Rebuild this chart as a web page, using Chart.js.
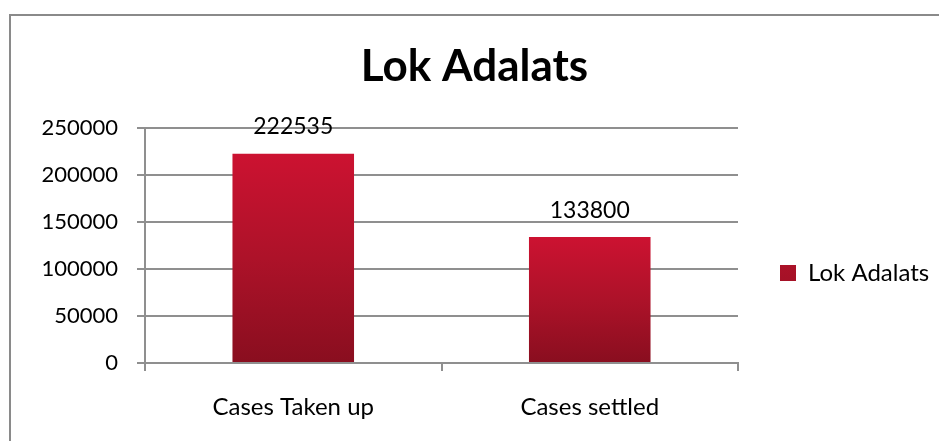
<!DOCTYPE html>
<html>
<head>
<meta charset="utf-8">
<script src="https://cdn.jsdelivr.net/npm/chart.js@4.4.0/dist/chart.umd.min.js"></script>
<style>
  html, body { margin: 0; padding: 0; background: #fff; }
  #wrap { position: relative; width: 939px; height: 441px; }
  #frame {
    position: absolute; left: 9px; top: 14px; right: 0; bottom: 0;
    border-left: 2px solid #8a8a8a; border-top: 2px solid #8a8a8a;
    pointer-events: none;
  }
  canvas { position: absolute; left: 0; top: 0; }
</style>
</head>
<body>
<div id="wrap">
  <canvas id="chart" width="939" height="441"></canvas>
  <div id="frame"></div>
</div>
<script>
const chartTitle = "Lok Adalats";
const categories = ["Cases Taken up", "Cases settled"];
const seriesName = "Lok Adalats";
const seriesValues = [222535, 133800];
const yMin = 0;
const yMax = 250000;
const yStep = 50000;

const FONT = "Lato, 'Open Sans', sans-serif";
const GRID = "#8f8f8f";

// vertical gradient per bar, bright red on top to dark red at the base
function barFill(context) {
  const chart = context.chart;
  if (!chart.chartArea || !chart.scales.y) {
    return "#a8122b";
  }
  const yScale = chart.scales.y;
  const value = seriesValues[context.dataIndex] ?? seriesValues[0];
  const top = yScale.getPixelForValue(value);
  const base = yScale.getPixelForValue(0);
  const g = chart.ctx.createLinearGradient(0, top, 0, base);
  g.addColorStop(0, "#cc1231");
  g.addColorStop(0.5, "#ad1229");
  g.addColorStop(1, "#890e1f");
  return g;
}

// value written above each bar
const valueLabels = {
  id: "valueLabels",
  afterDatasetsDraw(chart) {
    const ctx = chart.ctx;
    const meta = chart.getDatasetMeta(0);
    ctx.save();
    ctx.font = "23px " + FONT;
    ctx.fillStyle = "#000";
    ctx.textAlign = "center";
    ctx.textBaseline = "middle";
    meta.data.forEach((bar, i) => {
      ctx.fillText(String(seriesValues[i]), bar.x, bar.y - 27);
    });
    ctx.restore();
  }
};

new Chart(document.getElementById("chart"), {
  type: "bar",
  data: {
    labels: categories,
    datasets: [{
      label: seriesName,
      data: seriesValues,
      backgroundColor: barFill,
      borderWidth: 0,
      categoryPercentage: 1,
      barPercentage: 0.41
    }]
  },
  options: {
    responsive: false,
    animation: false,
    devicePixelRatio: 1,
    layout: { padding: { left: 10, top: 15, right: 0, bottom: 0 } },
    plugins: {
      title: {
        display: true,
        text: chartTitle,
        color: "#000",
        font: { family: FONT, size: 44, weight: "bold", lineHeight: 1.2 },
        padding: { top: 25, bottom: 35 }
      },
      legend: {
        position: "right",
        maxWidth: 201,
        title: {
          display: true,
          text: " ",
          font: { size: 10, lineHeight: 1.2 },
          padding: { top: 0, bottom: 78 }
        },
        labels: {
          boxWidth: 16,
          boxHeight: 16,
          padding: 42,
          color: "#000",
          font: { family: FONT, size: 24 }
        }
      },
      tooltip: { enabled: false }
    },
    scales: {
      x: {
        grid: {
          display: true,
          drawOnChartArea: false,
          drawTicks: true,
          tickLength: 8,
          color: GRID,
          lineWidth: 2,
          offset: true
        },
        border: { color: GRID, width: 2 },
        ticks: { color: "#000", font: { family: FONT, size: 24 }, padding: 22 },
        afterFit(scale) { scale.height = 78; }
      },
      y: {
        min: yMin,
        max: yMax,
        grid: { color: GRID, lineWidth: 2, tickLength: 8 },
        border: { color: GRID, width: 2 },
        ticks: {
          stepSize: yStep,
          color: "#000",
          font: { family: FONT, size: 22 },
          padding: 19,
          callback: (v) => String(v)
        },
        afterFit(scale) { scale.width = 135; }
      }
    }
  },
  plugins: [valueLabels]
});
</script>
</body>
</html>
